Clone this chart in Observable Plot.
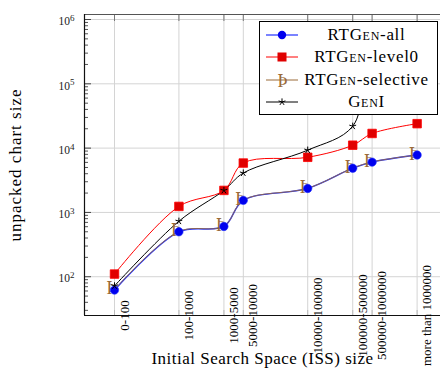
<!DOCTYPE html>
<html>
<head>
<meta charset="utf-8">
<script src="https://cdn.jsdelivr.net/npm/d3@7"></script>
<script src="https://cdn.jsdelivr.net/npm/@observablehq/plot@0.6"></script>
<style>
  html, body { margin: 0; padding: 0; background: #fff; }
  #wrap { position: relative; width: 440px; height: 372px; overflow: hidden; font-family: "Liberation Serif", serif; }
  #legend { position: absolute; left: 259px; top: 21px; width: 177px; height: 92px; border: 1px solid #000; background: #fff; box-sizing: content-box; }
  .row { position: absolute; left: 0; width: 177px; height: 22px; }
  .row svg { position: absolute; left: 4px; top: 0; }
  .row .lab { position: absolute; left: 38px; right: 2px; text-align: center; font-size: 17px; letter-spacing: 0.7px; line-height: 22px; color: #000; white-space: nowrap; }
  .sc { font-variant: small-caps; }
</style>
</head>
<body>
<div id="wrap"></div>
<script>
const categories = ["0-100", "100-1000", "1000-5000", "5000-10000", "10000-100000", "100000-500000", "500000-1000000", "more than 1000000"];
const upperBounds = [100, 1000, 5000, 10000, 100000, 500000, 1000000, 5000000];
const rtgenAll = [62, 500, 605, 1540, 2360, 4870, 6050, 7800];
const rtgenLevel0 = [110, 1240, 2200, 5860, 7200, 11100, 16900, 24000];
const rtgenSelective = [63, 505, 610, 1550, 2380, 4900, 6100, 7850];
const genI = [72, 730, 2200, 4100, 9300, 21900, 300000, 800000];
const yDecades = [100, 1000, 10000, 100000, 1000000];
const seriesNames = ["RTGen-all", "RTGen-level0", "RTGen-selective", "GenI"];
const yTitle = "unpacked chart size";
const xTitle = "Initial Search Space (ISS) size";

const rows = (vals) => upperBounds.map((u, i) => ({x: u, y: vals[i], cat: categories[i]}));
const dAll = rows(rtgenAll), dL0 = rows(rtgenLevel0), dSel = rows(rtgenSelective), dGen = rows(genI);

const xDomain = [Math.pow(10, 1.534), Math.pow(10, 7.062)];
const yDomain = [Math.pow(10, 1.397), Math.pow(10, 6.078)];

const minor = [];
for (let e = 1; e <= 6; e++) for (let m = 2; m <= 9; m++) {
  const v = m * Math.pow(10, e);
  if (v > yDomain[0] && v < yDomain[1]) minor.push(v);
}
const fmt = d => "10^" + Math.round(Math.log10(d));

// five-spoke asterisk (like the TeX "star" mark)
const star5 = {
  draw(context, size) {
    const r = Math.sqrt(size / Math.PI);
    for (let k = 0; k < 5; k++) {
      const a = -Math.PI / 2 + k * 2 * Math.PI / 5;
      context.moveTo(0, 0);
      context.lineTo(r * Math.cos(a), r * Math.sin(a));
    }
  }
};

const brown = "#9a6a38";
const grid = "#d4d4d4";

const chart = Plot.plot({
  width: 440,
  height: 372,
  marginLeft: 84,
  marginRight: 0,
  marginTop: 14,
  marginBottom: 57,
  style: {fontFamily: "Liberation Serif, serif", background: "white", overflow: "visible"},
  x: {type: "log", domain: xDomain, axis: null},
  y: {type: "log", domain: yDomain, axis: null},
  marks: [
    Plot.ruleY(yDecades, {stroke: grid, strokeWidth: 1}),
    Plot.ruleX(upperBounds, {stroke: grid, strokeWidth: 1}),
    // minor ticks (inward)
    Plot.axisY({anchor: "left", ticks: minor, tickSize: -4, text: null, label: null, stroke: "#555"}),
    // major ticks (inward) and labels
    Plot.axisY({anchor: "left", ticks: yDecades, tickSize: -7, text: null, label: null, stroke: "#444"}),
    Plot.axisY({anchor: "left", ticks: yDecades, tickSize: 0, tickPadding: 10, tickFormat: fmt, label: null, fontSize: 11.5, fill: "#222", dy: 2}),
    Plot.axisY({anchor: "left", ticks: [], label: yTitle, labelAnchor: "center", labelOffset: 76, labelArrow: "none", fontSize: 17, fill: "#000"}),
    Plot.axisX({anchor: "top", ticks: upperBounds, tickSize: -6, text: null, label: null, stroke: "#777"}),
    Plot.axisX({anchor: "bottom", ticks: upperBounds, tickSize: -5, text: null, label: null, stroke: "#bbb"}),
    Plot.axisX({anchor: "bottom", ticks: [], label: xTitle, labelAnchor: "center", labelOffset: 48, labelArrow: "none", fontSize: 17, fill: "#000"}),
    // frame lines
    Plot.ruleY([yDomain[1]], {stroke: "#555", strokeWidth: 1.2}),
    Plot.ruleY([yDomain[0]], {stroke: "#111", strokeWidth: 1.2}),
    Plot.ruleX([xDomain[0]], {stroke: "#111", strokeWidth: 1.2}),
    // rotated category labels
    Plot.text(categories, {x: (d, i) => upperBounds[i], frameAnchor: "bottom", rotate: -90, textAnchor: "middle", lineAnchor: "middle", dx: 10, fontSize: 13, fill: "#000"}),
    // series
    Plot.line(dL0, {x: "x", y: "y", stroke: "#ff0000", strokeWidth: 1, curve: "catmull-rom", clip: true}),
    Plot.line(dGen, {x: "x", y: "y", stroke: "#000", strokeWidth: 1, curve: "catmull-rom", clip: true}),
    Plot.line(dAll, {x: "x", y: "y", stroke: "#2030ff", strokeWidth: 1.4, curve: "catmull-rom", clip: true}),
    Plot.line(dSel, {x: "x", y: "y", stroke: brown, strokeWidth: 1, strokeOpacity: 0.85, curve: "catmull-rom", clip: true}),
    Plot.dot(dL0, {x: "x", y: "y", symbol: "square", r: 4.8, fill: "#e00000", stroke: "#ff0000", strokeWidth: 0.8}),
    Plot.text(dSel, {x: "x", y: "y", text: d => "Þ", fontSize: 18, fill: brown, dx: -3, dy: -1}),
    Plot.dot(dAll, {x: "x", y: "y", symbol: "circle", r: 4.2, fill: "#0000ee", stroke: "#2030ff", strokeWidth: 0.6}),
    Plot.dot(dGen, {x: "x", y: "y", symbol: star5, r: 3.6, stroke: "#000", strokeWidth: 1, clip: true})
  ]
});

const wrap = document.getElementById("wrap");
wrap.appendChild(chart);

// letter spacing for the titles (wider TeX font), superscript exponents
d3.select(chart).selectAll("text").each(function () {
  const t = this.textContent;
  if (t === yTitle) this.style.letterSpacing = "1px";
  if (t === xTitle) this.style.letterSpacing = "0.5px";
  const m = /^10\^(\d+)$/.exec(t);
  if (m) {
    this.textContent = "10";
    const ts = document.createElementNS("http://www.w3.org/2000/svg", "tspan");
    ts.setAttribute("dy", "-0.45em");
    ts.setAttribute("font-size", "9");
    ts.textContent = m[1];
    this.appendChild(ts);
  }
});

const legend = document.createElement("div");
legend.id = "legend";
const starPath = (() => {
  let p = "";
  for (let k = 0; k < 5; k++) {
    const a = -Math.PI / 2 + k * 2 * Math.PI / 5;
    p += `M18,11L${(18 + 3.6 * Math.cos(a)).toFixed(2)},${(11 + 3.6 * Math.sin(a)).toFixed(2)}`;
  }
  return p;
})();
const sym = [
  `<line x1="2" y1="11" x2="34" y2="11" stroke="#2030ff" stroke-width="1.2"/><circle cx="18" cy="11" r="4.2" fill="#0000ee"/>`,
  `<line x1="2" y1="11" x2="34" y2="11" stroke="#ff0000" stroke-width="1"/><rect x="13.5" y="6.5" width="9" height="9" fill="#e00000"/>`,
  `<line x1="2" y1="11" x2="34" y2="11" stroke="${brown}" stroke-width="1"/><text x="13.5" y="17.5" font-size="18" fill="${brown}" font-family="Liberation Serif">Þ</text>`,
  `<line x1="2" y1="11" x2="34" y2="11" stroke="#000" stroke-width="1"/><path d="${starPath}" stroke="#000" stroke-width="1"/>`
];
const labels = [
  `RT<span class="sc">Gen</span>-all`,
  `RT<span class="sc">Gen</span>-level0`,
  `RT<span class="sc">Gen</span>-selective`,
  `<span class="sc">Gen</span>I`
];
seriesNames.forEach((n, i) => {
  const r = document.createElement("div");
  r.className = "row";
  r.style.top = (2 + i * 22.3) + "px";
  r.innerHTML = `<svg width="36" height="22">${sym[i]}</svg><div class="lab">${labels[i]}</div>`;
  legend.appendChild(r);
});
wrap.appendChild(legend);
</script>
</body>
</html>
